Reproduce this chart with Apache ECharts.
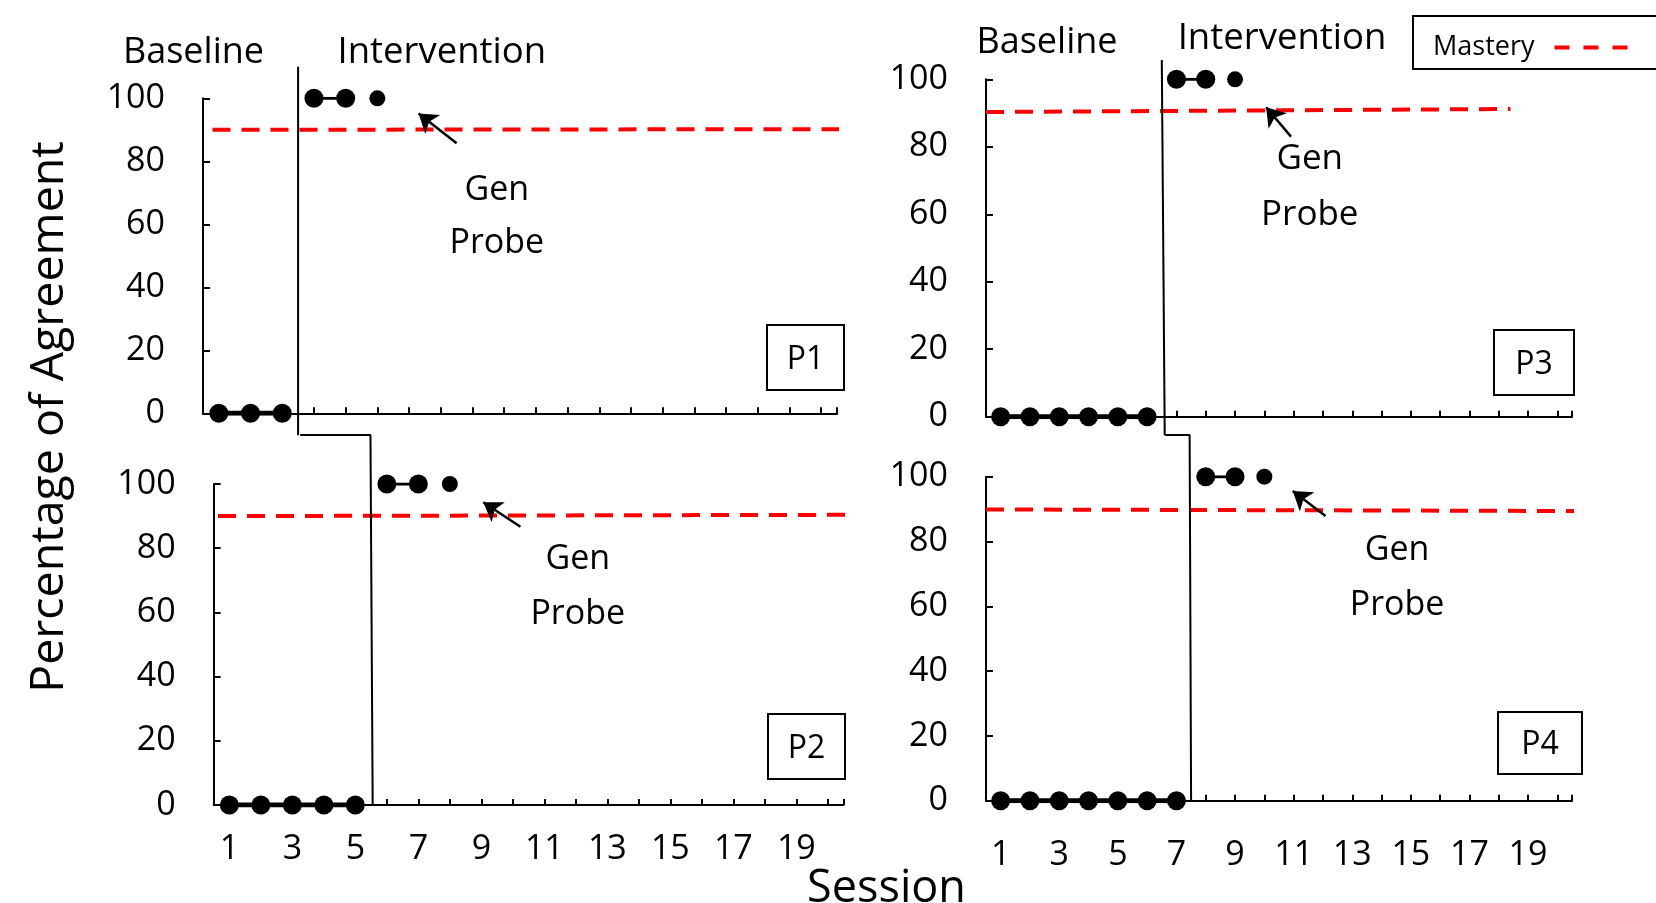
<!DOCTYPE html>
<html>
<head>
<meta charset="utf-8">
<script src="https://cdn.jsdelivr.net/npm/echarts@6/dist/echarts.min.js"></script>
<style>
html,body{margin:0;padding:0;background:#fff;}
#chart{width:1656px;height:903px;}
</style>
</head>
<body>
<div id="chart"></div>
<script>
// ---------------- DATA ----------------
const sessionTicks = [1,2,3,4,5,6,7,8,9,10,11,12,13,14,15,16,17,18,19,20,20.5];
const sessionLabels = [1,3,5,7,9,11,13,15,17,19];
const valueTicks = [0,20,40,60,80,100];

// P1
const p1BaseSessions = [1,2,3];
const p1BaseValues = [0,0,0];
const p1IntSessions = [4,5];
const p1IntValues = [100,100];
const p1GenSessions = [6];
const p1GenValues = [100];
const p1MasterySessions = [0.8, 20.6];
const p1MasteryValues = [90, 90.2];
const p1PhaseSessions = [3.5, 3.5];
const p1PhaseValues = [110, -7];

// P2
const p2BaseSessions = [1,2,3,4,5];
const p2BaseValues = [0,0,0,0,0];
const p2IntSessions = [6,7];
const p2IntValues = [100,100];
const p2GenSessions = [8];
const p2GenValues = [100];
const p2MasterySessions = [0.64, 20.6];
const p2MasteryValues = [90, 90.4];
const p2PhaseSessions = [3.25, 5.48, 5.55];
const p2PhaseValues = [115.3, 115.3, 0];

// P3
const p3BaseSessions = [1,2,3,4,5,6];
const p3BaseValues = [0,0,0,0,0,0];
const p3IntSessions = [7,8];
const p3IntValues = [100,100];
const p3GenSessions = [9];
const p3GenValues = [100];
const p3MasterySessions = [0.5, 18.4];
const p3MasteryValues = [90.3, 91.2];
const p3PhaseSessions = [6.5, 6.6];
const p3PhaseValues = [105.7, -5.4];

// P4
const p4BaseSessions = [1,2,3,4,5,6,7];
const p4BaseValues = [0,0,0,0,0,0,0];
const p4IntSessions = [8,9];
const p4IntValues = [100,100];
const p4GenSessions = [10];
const p4GenValues = [100];
const p4MasterySessions = [0.5, 20.9];
const p4MasteryValues = [89.9, 89.4];
const p4PhaseSessions = [6.6, 7.45, 7.5];
const p4PhaseValues = [112.9, 112.9, 0];

// Annotation anchors (data units: session, value) — arrow [tail, head]
const p1GenArrow = [[8.5, 85.7], [7.3, 95.2]];
const p2GenArrow = [[10.24, 86.7], [9.06, 94.3]];
const p3GenArrow = [[10.91, 83.0], [10.06, 91.7]];
const p4GenArrow = [[12.09, 87.9], [10.97, 95.6]];
const p1GenLabelAt = [9.77, 62.3];
const p2GenLabelAt = [12.06, 67.9];
const p3GenLabelAt = [11.55, 68.1];
const p4GenLabelAt = [14.53, 68.7];

const panelNames = ['P1','P2','P3','P4'];
const phaseTitles = ['Baseline','Intervention'];
const yAxisTitle = 'Percentage of Agreement';
const xAxisTitle = 'Session';
const legendName = 'Mastery';
const genText = 'Gen\nProbe';

// ---------------- LAYOUT / STYLE ----------------
const FONT = 'Open Sans';
const BLACK = '#000';
const RED = '#ff0000';

const zip = (a, b) => a.map((v, i) => [v, b[i]]);

const panels = [
  { grid:{left:203, top:98.3, width:634, height:315}, showX:false, xMargin:27,
    base:zip(p1BaseSessions,p1BaseValues), int:zip(p1IntSessions,p1IntValues), gen:zip(p1GenSessions,p1GenValues),
    mastery:zip(p1MasterySessions,p1MasteryValues), phase:zip(p1PhaseSessions,p1PhaseValues),
    arrow:p1GenArrow, genAt:p1GenLabelAt, genLH:53, genFS:34,
    box:{x:767, y:325, w:77, h:65} },
  { grid:{left:213.6, top:484, width:630, height:321}, showX:true, xMargin:27,
    base:zip(p2BaseSessions,p2BaseValues), int:zip(p2IntSessions,p2IntValues), gen:zip(p2GenSessions,p2GenValues),
    mastery:zip(p2MasterySessions,p2MasteryValues), phase:zip(p2PhaseSessions,p2PhaseValues),
    arrow:p2GenArrow, genAt:p2GenLabelAt, genLH:55, genFS:34,
    box:{x:768, y:714, w:77, h:65} },
  { grid:{left:986, top:79.3, width:586, height:337.4}, showX:false, xMargin:38,
    base:zip(p3BaseSessions,p3BaseValues), int:zip(p3IntSessions,p3IntValues), gen:zip(p3GenSessions,p3GenValues),
    mastery:zip(p3MasterySessions,p3MasteryValues), phase:zip(p3PhaseSessions,p3PhaseValues),
    arrow:p3GenArrow, genAt:p3GenLabelAt, genLH:56, genFS:35,
    box:{x:1494, y:330, w:80, h:65} },
  { grid:{left:986, top:476.7, width:586, height:324}, showX:true, xMargin:38,
    base:zip(p4BaseSessions,p4BaseValues), int:zip(p4IntSessions,p4IntValues), gen:zip(p4GenSessions,p4GenValues),
    mastery:zip(p4MasterySessions,p4MasteryValues), phase:zip(p4PhaseSessions,p4PhaseValues),
    arrow:p4GenArrow, genAt:p4GenLabelAt, genLH:55, genFS:34,
    box:{x:1498, y:712, w:84, h:62} }
];

const grids = [], xAxes = [], yAxes = [], series = [];
panels.forEach((p, i) => {
  grids.push(Object.assign({ containLabel:false, outerBoundsMode:'none' }, p.grid));
  xAxes.push({
    type:'value', gridIndex:i, min:0.5, max:20.5,
    axisLine:{ show:true, onZero:false, lineStyle:{ color:BLACK, width:2 } },
    axisTick:{ show:true, inside:true, length:6, customValues:sessionTicks, lineStyle:{ color:BLACK, width:2 } },
    axisLabel:{ show:p.showX, customValues:sessionLabels, margin:p.xMargin, fontSize:34, color:BLACK, fontFamily:FONT },
    splitLine:{ show:false }
  });
  yAxes.push({
    type:'value', gridIndex:i, min:0, max:100, interval:20,
    axisLine:{ show:true, onZero:false, lineStyle:{ color:BLACK, width:2 } },
    axisTick:{ show:true, inside:true, length:7, lineStyle:{ color:BLACK, width:2 } },
    axisLabel:{ margin:38, fontSize:34, color:BLACK, fontFamily:FONT, customValues:valueTicks },
    splitLine:{ show:false }
  });
  series.push({
    type:'line', xAxisIndex:i, yAxisIndex:i, data:p.mastery, name:legendName,
    symbol:'none', clip:false, z:2,
    lineStyle:{ color:RED, width:4, type:[18,11] }, itemStyle:{ color:RED }
  });
  series.push({
    type:'line', xAxisIndex:i, yAxisIndex:i, data:p.phase, symbol:'none', clip:false, z:3,
    lineStyle:{ color:BLACK, width:2 }
  });
  series.push({
    type:'line', xAxisIndex:i, yAxisIndex:i, data:p.base, symbol:'circle', symbolSize:19, z:5,
    lineStyle:{ color:BLACK, width:5 }, itemStyle:{ color:BLACK, opacity:1 }
  });
  series.push({
    type:'line', xAxisIndex:i, yAxisIndex:i, data:p.int, symbol:'circle', symbolSize:19, z:5,
    lineStyle:{ color:BLACK, width:3 }, itemStyle:{ color:BLACK, opacity:1 }
  });
  series.push({
    type:'scatter', xAxisIndex:i, yAxisIndex:i, data:p.gen, symbol:'circle', symbolSize:16, z:5,
    itemStyle:{ color:BLACK, opacity:1 }
  });
  // arrow pointing at the generalization probe
  series.push({
    type:'lines', coordinateSystem:'cartesian2d', xAxisIndex:i, yAxisIndex:i, z:6,
    symbol:['none','arrow'], symbolSize:18,
    lineStyle:{ color:BLACK, width:2.5, opacity:1 },
    data:[{ coords:[p.arrow[0], p.arrow[1]] }]
  });
});

const chart = echarts.init(document.getElementById('chart'), null, { renderer:'canvas' });
chart.setOption({
  backgroundColor:'#fff',
  animation:false,
  grid:grids, xAxis:xAxes, yAxis:yAxes, series:series,
  legend:{
    data:[legendName], left:1413, top:16, orient:'horizontal', align:'right',
    padding:[18, 60, 8, 20], borderColor:BLACK, borderWidth:2,
    itemWidth:75, itemHeight:14, selectedMode:false,
    textStyle:{ fontSize:27, color:BLACK, fontFamily:FONT, padding:[0,15,0,0] },
    itemStyle:{ opacity:0, color:'rgba(0,0,0,0)' },
    lineStyle:{ color:RED, width:4, type:[15,14] }
  }
});

// ---------------- ANNOTATIONS ----------------
const g = [];
const txt = (text, x, y, fs, extra) => g.push(Object.assign({
  type:'text', x:x, y:y, silent:true,
  style:{ text:text, fontSize:fs, fontFamily:FONT, fill:BLACK, align:'center', verticalAlign:'middle' }
}, extra || {}));

// phase titles (top row)
txt(phaseTitles[0], 193.5, 52.6, 36);
txt(phaseTitles[1], 441.8, 52.6, 36.5);
txt(phaseTitles[0], 1047, 43, 36);
txt(phaseTitles[1], 1282, 38.4, 36.5);

panels.forEach((p, i) => {
  const pt = chart.convertToPixel({ gridIndex:i }, p.genAt);
  g.push({ type:'text', x:pt[0], y:pt[1], silent:true,
    style:{ text:genText, fontSize:p.genFS, lineHeight:p.genLH, fontFamily:FONT, fill:BLACK, align:'center', verticalAlign:'middle' } });
  g.push({ type:'rect', silent:true, shape:{ x:p.box.x, y:p.box.y, width:p.box.w, height:p.box.h },
    style:{ fill:'#fff', stroke:BLACK, lineWidth:2 } });
  txt(panelNames[i], p.box.x + p.box.w/2, p.box.y + p.box.h/2 + 2, 32);
});

txt(yAxisTitle, 50, 417, 46.5, { rotation:Math.PI/2 });
txt(xAxisTitle, 886.5, 889, 45);

chart.setOption({ graphic:{ elements:g } });
</script>
</body>
</html>
